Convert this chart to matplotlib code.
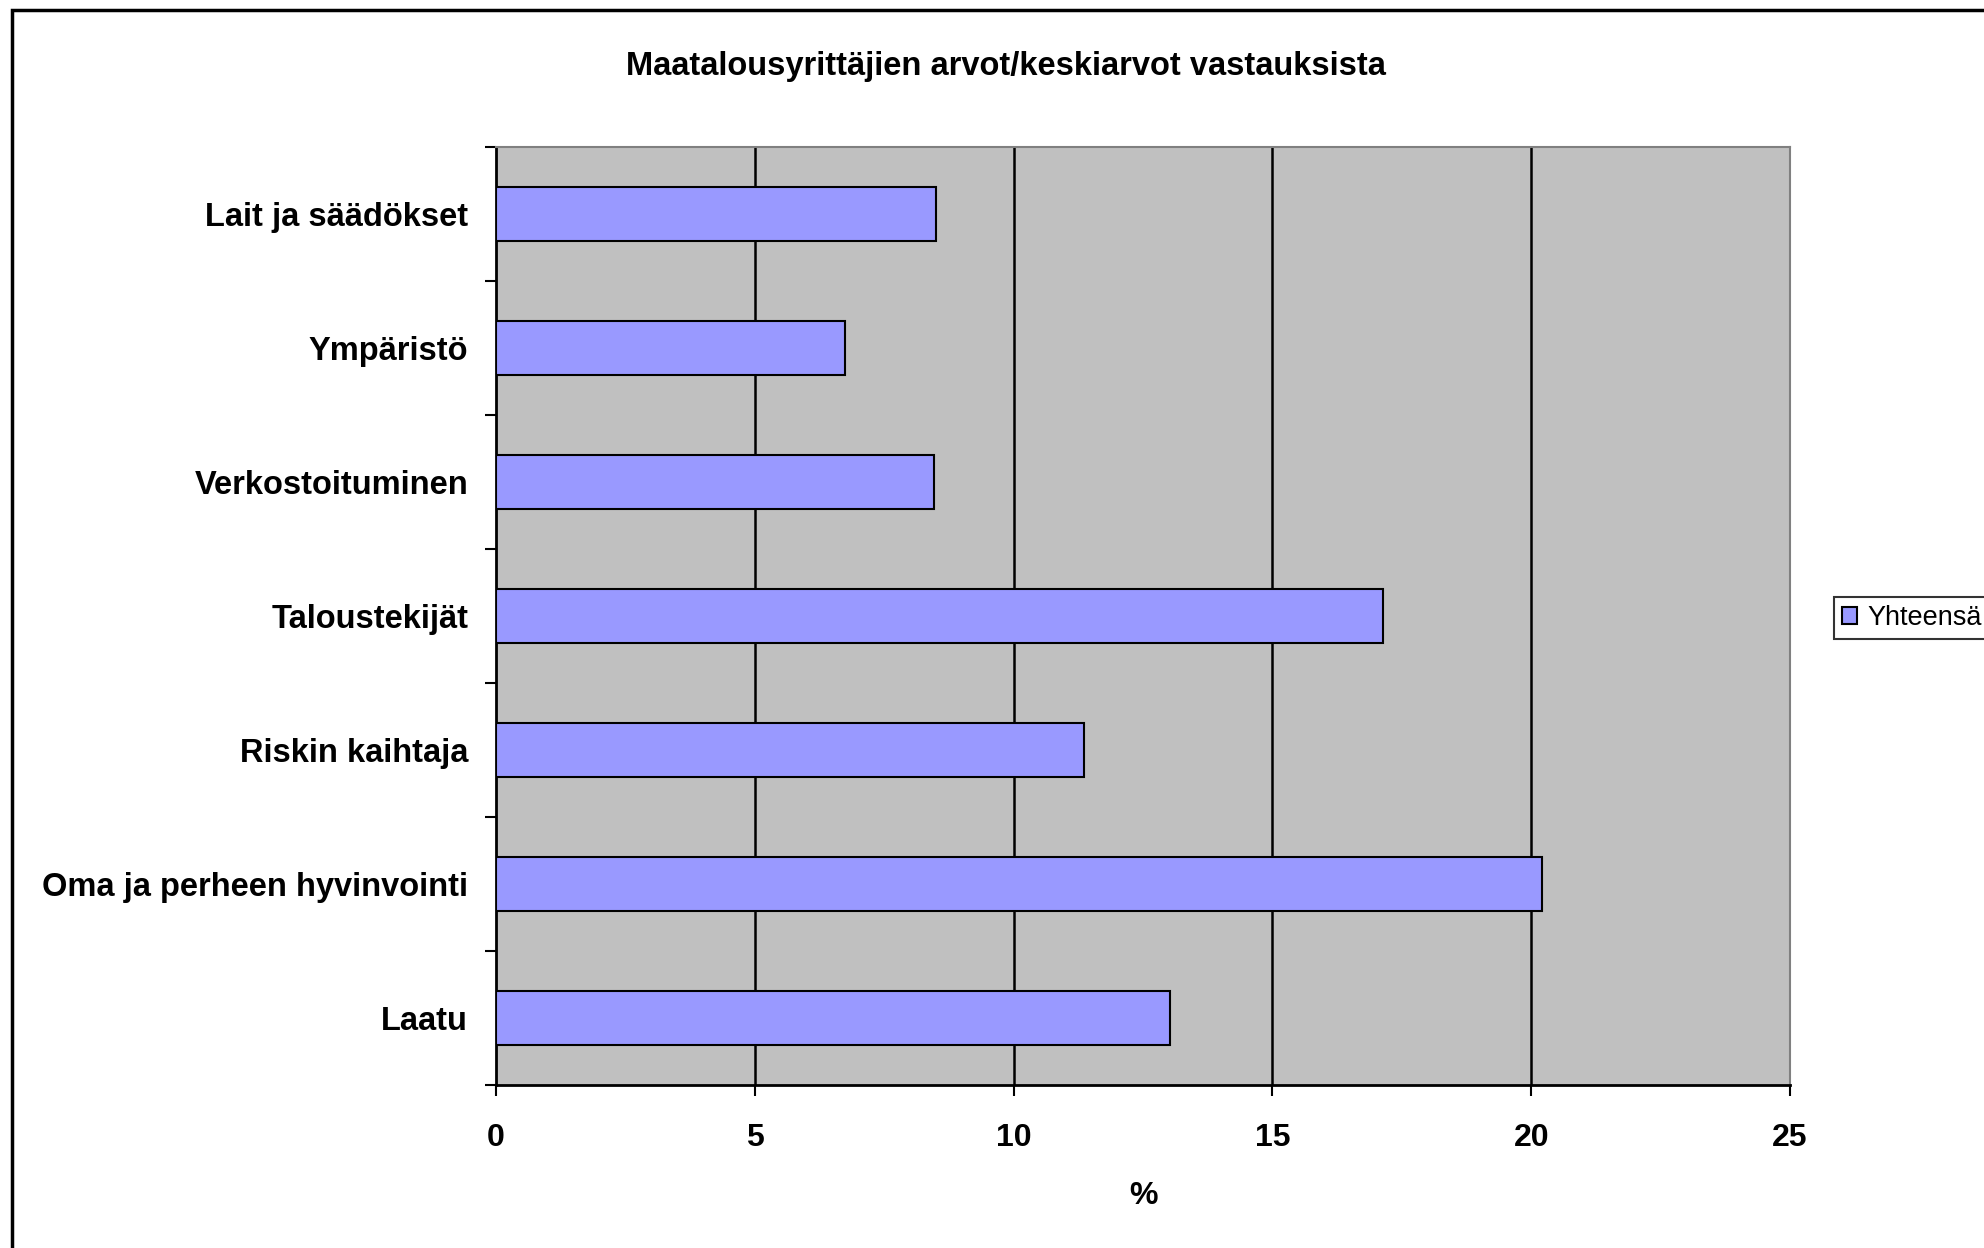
"""Maatalousyrittäjien arvot/keskiarvot vastauksista - vaakapylväskaavio."""

import matplotlib

matplotlib.use("Agg")
import matplotlib.pyplot as plt
from matplotlib.patches import Rectangle
import numpy as np

categories = [
    "Laatu",
    "Oma ja perheen hyvinvointi",
    "Riskin kaihtaja",
    "Taloustekijät",
    "Verkostoituminen",
    "Ympäristö",
    "Lait ja säädökset",
]
values = [13.03, 20.21, 11.36, 17.13, 8.46, 6.74, 8.50]
x_ticks = [0, 5, 10, 15, 20, 25]
series_name = "Yhteensä"
title = "Maatalousyrittäjien arvot/keskiarvot vastauksista"

W, H = 1984, 1248
plt.rcParams["font.family"] = ["Liberation Sans", "DejaVu Sans"]

fig = plt.figure(figsize=(W / 100, H / 100), dpi=100)
fig.patch.set_facecolor("white")

# outer chart border (cropped at right and bottom in the original)
fig.add_artist(
    Rectangle(
        (12 / W, -0.2), 1.5, 1 - 10 / H + 0.2,
        transform=fig.transFigure, fill=False, edgecolor="black", linewidth=2.5,
    )
)

left, right, top, bottom = 496, 1790, 147, 1085
ax = fig.add_axes([left / W, 1 - bottom / H, (right - left) / W, (bottom - top) / H])
ax.set_facecolor("#c0c0c0")

y = np.arange(len(categories))
ax.barh(y, values, height=0.4, color="#9999ff", edgecolor="black",
        linewidth=1.5, zorder=3, label=series_name)

ax.set_xlim(0, 25)
ax.set_ylim(-0.5, len(categories) - 0.5)
ax.set_xticks(x_ticks)
ax.set_xticklabels([str(t) for t in x_ticks], fontsize=23, fontweight="bold")
ax.set_yticks(y)
ax.set_yticklabels(categories, fontsize=23.5, fontweight="bold")
ax.set_yticks(np.arange(-0.5, len(categories)), minor=True)
ax.tick_params(axis="y", which="major", length=0, pad=20)
ax.tick_params(axis="y", which="minor", length=8, width=1.5, direction="out")
ax.tick_params(axis="x", length=8, width=1.5, direction="out", pad=19.5)

for gx in x_ticks[1:-1]:
    ax.axvline(gx, color="black", linewidth=1.8, zorder=1)

ax.spines["left"].set_color("black")
ax.spines["bottom"].set_color("black")
ax.spines["left"].set_linewidth(2)
ax.spines["bottom"].set_linewidth(2)
ax.spines["top"].set_color("#808080")
ax.spines["right"].set_color("#808080")
ax.spines["top"].set_linewidth(1.5)
ax.spines["right"].set_linewidth(1.5)

ax.set_xlabel("%", fontsize=23, fontweight="bold", labelpad=20)

fig.text(1006 / W, 1 - 66 / H, title, ha="center", va="center",
         fontsize=23.5, fontweight="bold")

leg = fig.legend(
    loc="center left", bbox_to_anchor=(1834 / W, 1 - 618 / H), borderaxespad=0,
    fontsize=19.5, frameon=True, fancybox=False, edgecolor="black",
    handlelength=0.55, handleheight=0.55, handletextpad=0.4, borderpad=0.3,
)
leg.get_frame().set_linewidth(1.5)

fig.savefig("out.png", dpi=100)
